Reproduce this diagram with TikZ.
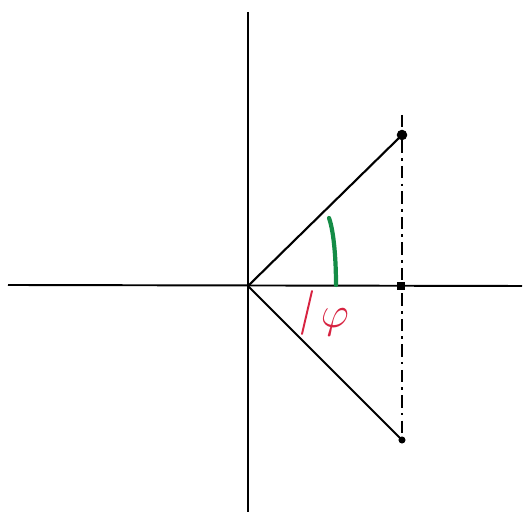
\documentclass[tikz,border=0pt]{standalone}
\usepackage{amsmath}
\usepackage{tikz}
\usepackage{xcolor}
\usetikzlibrary{calc}
\definecolor{cGreen}{RGB}{20,140,70}
\definecolor{cRed}{RGB}{215,35,65}
\tikzset{
	axis/.style     ={line width=1.1pt, black},
	ray/.style      ={line width=1.2pt, black},
	proj/.style     ={line width=1pt, black, dash pattern=on 7pt off 3pt on 1.5pt off 3pt},
	arcmark/.style  ={line width=2.4pt, cGreen, line cap=round},
	phimark/.style  ={line width=1.1pt, cRed, line cap=round},
	pt/.style       ={circle, fill=black, inner sep=0pt},
}
\begin{document}
\begin{tikzpicture}[x=0.02cm, y=-0.02cm]
			\useasboundingbox (0,0) rectangle (525,516);
			% axes
			\coordinate (xl) at (8,285);
			\coordinate (xr) at (522,286);
			\coordinate (yt) at (248,12);
			\coordinate (yb) at (248,512);
			\coordinate (o) at (248,286);
			\draw[axis] (xl) -- (xr);
			\draw[axis] (yt) -- (yb);
			% points and rays
			\node[pt, minimum size=6pt] (p) at (402,135) {};
			\node[pt, minimum size=4pt] (q) at (402,440) {};
			\node[rectangle, fill=black, minimum size=4pt, inner sep=0pt] (f) at (401,286) {};
			\draw[ray] (o) -- (p.center);
			\draw[ray] (o) -- (q.center);
			\coordinate (vt) at (402,115);
			\coordinate (vb) at (402,445);
			\draw[proj] (vt) -- (vb);
			% angle marks
			\coordinate (g1) at (329,218);
			\coordinate (g2) at (336,285);
			\draw[arcmark] (g1) .. controls (334,232) and (336,260) .. (g2);
			\coordinate (r1) at (312,291);
			\coordinate (r2) at (302,334);
			\draw[phimark] (r1) -- (r2);
			\node[text=cRed, font=\fontsize{26}{28}\selectfont] (phi) at (335,322) {$\varphi$};
		\end{tikzpicture}
\end{document}
